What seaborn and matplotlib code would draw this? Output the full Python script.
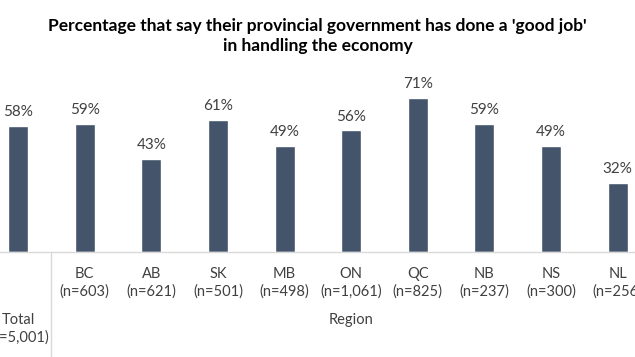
import matplotlib
matplotlib.use("Agg")
import matplotlib.pyplot as plt
import seaborn as sns
import pandas as pd

# data
regions = ["Total", "BC", "AB", "SK", "MB", "ON", "QC", "NB", "NS", "NL"]
sample_sizes = ["5,001", "603", "621", "501", "498", "1,061", "825", "237", "300", "256"]
good_job_pct = [58, 59, 43, 61, 49, 56, 71, 59, 49, 32]

title = "Percentage that say their provincial government has done a 'good job'\nin handling the economy"
group_label = "Region"

bar_color = "#44546A"
text_color = "#404040"
axis_color = "#D9D9D9"

sns.set_theme(style="white")
plt.rcParams["font.family"] = ["Lato", "DejaVu Sans"]

df = pd.DataFrame({"region": regions, "pct": good_job_pct})

fig = plt.figure(figsize=(6.35, 3.57), dpi=100)
# the reference is a crop of a wider chart, so the axes run past the figure edges
ax = fig.add_axes([-0.024, 0.294, 1.049, 0.608])

sns.barplot(data=df, x="region", y="pct", color=bar_color, width=0.3,
            saturation=1, ax=ax)
ax.set_ylim(0, 100)
ax.set_xlim(-0.5, len(regions) - 0.5)

ax.bar_label(ax.containers[0], fmt="%d%%", padding=5,
             fontsize=11, color=text_color)

# no y axis, only the light category axis line
sns.despine(ax=ax, left=True, top=True, right=True)
ax.spines["bottom"].set_color(axis_color)
ax.spines["bottom"].set_linewidth(1)
ax.set_yticks([])
ax.set_xlabel("")
ax.set_ylabel("")
ax.set_xticks([])

# two-level category labels (Excel style)
for i, (reg, n) in enumerate(zip(regions, sample_sizes)):
    y = -0.07 if i > 0 else -0.28
    ax.text(i, y, f"{reg}\n(n={n})", transform=ax.get_xaxis_transform(),
            ha="center", va="top", fontsize=10.5, color=text_color,
            linespacing=1.3)

ax.text((1 + len(regions) - 1) / 2, -0.28, group_label,
        transform=ax.get_xaxis_transform(), ha="center", va="top",
        fontsize=10.5, color=text_color)

# separator between Total and the regions
ax.plot([0.5, 0.5], [0, -0.6], transform=ax.get_xaxis_transform(),
        color=axis_color, linewidth=1, clip_on=False)

fig.text(0.5, 0.95, title, ha="center", va="top", fontsize=12.5,
         fontweight="bold", color="#000000", linespacing=1.35)

fig.savefig("out.png", dpi=100)
